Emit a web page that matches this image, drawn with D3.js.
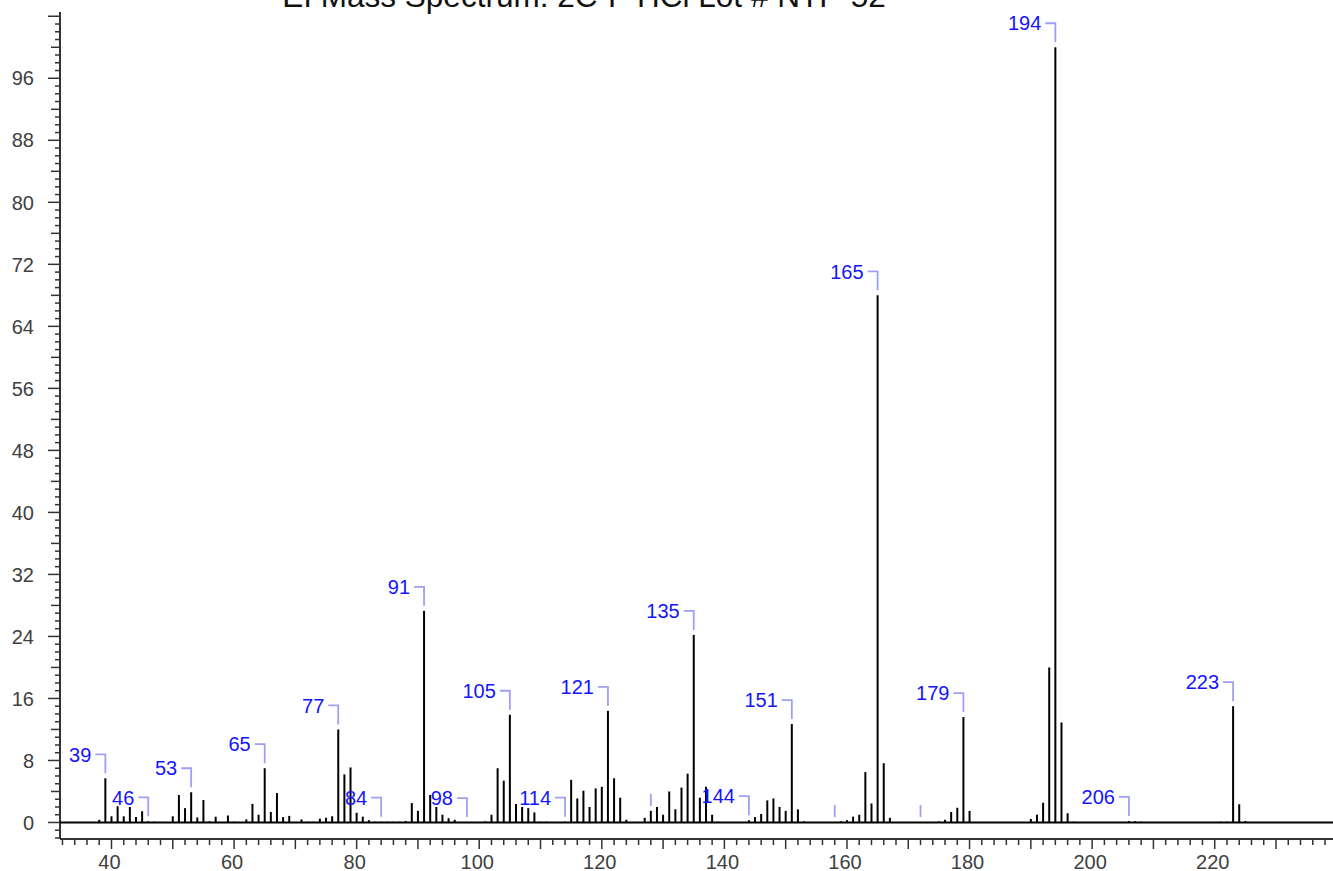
<!DOCTYPE html>
<html lang="en">
<head>
<meta charset="UTF-8" />
<title>EI Mass Spectrum</title>
<script src="https://cdn.jsdelivr.net/npm/d3@7"></script>
<style>
  body { margin: 0; background: #fff; }
  svg { display: block; font-family: "Liberation Sans", Arial, sans-serif; }
</style>
</head>
<body>
<div id="app"></div>
<script>
const titleText = 'EI Mass Spectrum: 2C-P HCl Lot # NTP-52'

// m/z and relative abundance
const mz = [38, 39, 40, 41, 42, 43, 44, 45, 46, 47, 50, 51, 52, 53, 54, 55, 56, 57, 59, 60,
  62, 63, 64, 65, 66, 67, 68, 69, 71, 72, 73, 74, 75, 76, 77, 78, 79, 80, 81, 82,
  83, 84, 85, 86, 87, 88, 89, 90, 91, 92, 93, 94, 95, 96, 98, 101, 102, 103, 104, 105,
  106, 107, 108, 109, 110, 111, 114, 115, 116, 117, 118, 119, 120, 121, 122, 123, 124, 127, 128, 129,
  130, 131, 132, 133, 134, 135, 136, 137, 138, 139, 144, 145, 146, 147, 148, 149, 150, 151, 152, 153,
  158, 159, 160, 161, 162, 163, 164, 165, 166, 167, 172, 175, 176, 177, 178, 179, 180, 190, 191, 192,
  193, 194, 195, 196, 197, 206, 207, 208, 221, 222, 223, 224, 225]
const intensity = [0.35, 5.7, 0.8, 2.1, 0.8, 2.0, 0.7, 1.45, 0.15, 0.1, 0.8, 3.55, 1.85, 3.9, 0.65, 2.9, 0.15, 0.75, 0.9, 0.1,
  0.4, 2.4, 1.0, 7.0, 1.35, 3.8, 0.7, 0.85, 0.4, 0.1, 0.1, 0.5, 0.6, 0.8, 12.0, 6.2, 7.1, 1.25, 0.75, 0.3,
  0.1, 0.1, 0.1, 0.1, 0.1, 0.2, 2.5, 1.5, 27.3, 3.55, 2.0, 1.0, 0.55, 0.35, 0.05, 0.15, 1.0, 7.0, 5.4, 13.9,
  2.4, 2.0, 1.85, 1.3, 0.1, 0.1, 0.1, 5.5, 3.1, 4.1, 2.0, 4.4, 4.6, 14.4, 5.7, 3.2, 0.35, 0.6, 1.5, 2.0,
  1.0, 4.0, 1.7, 4.5, 6.3, 24.2, 3.2, 4.6, 1.0, 0.1, 0.3, 0.7, 1.1, 2.85, 3.1, 2.0, 1.5, 12.7, 1.7, 0.15,
  0.05, 0.15, 0.3, 0.75, 1.0, 6.5, 2.45, 68.0, 7.65, 0.6, 0.05, 0.15, 0.35, 1.35, 1.9, 13.6, 1.5, 0.45, 1.0, 2.55,
  20.0, 100, 12.9, 1.2, 0.1, 0.2, 0.15, 0.1, 0.1, 0.1, 15.0, 2.35, 0.2]

// annotated peaks, and peaks whose label text was suppressed (connector only)
const labelMz = [39, 46, 53, 65, 77, 84, 91, 98, 105, 114, 121, 135, 144, 151, 165, 179, 194, 206, 223]
const hiddenLabelMz = [128, 158, 172]

const xTicks = d3.range(32, 240, 2)
const xTickLabels = d3.range(40, 221, 20)
const yTicks = d3.range(-2, 105, 1)
const yTickLabels = d3.range(0, 97, 8)

const width = 1333
const height = 871
const peaks = mz.map((m, i) => ({ mz: m, value: intensity[i] }))
const valueAt = m => (peaks.find(p => p.mz === m) || { value: 0 }).value

const x = d3.scaleLinear().domain([31.6, 239.3]).range([60, 1333])
const y = d3.scaleLinear().domain([-2.13, 104.55]).range([839, 12])

const svg = d3.select('#app').append('svg')
  .attr('width', width)
  .attr('height', height)

// title (sits partly above the page edge)
svg.append('text')
  .attr('x', 584)
  .attr('y', 7)
  .attr('text-anchor', 'middle')
  .attr('font-size', 31.5)
  .attr('fill', '#111')
  .text(titleText)

// y axis
const yAxis = svg.append('g').attr('transform', `translate(${x.range()[0]},0)`)
yAxis.append('line')
  .attr('y1', y.range()[1]).attr('y2', y.range()[0])
  .attr('stroke', '#333').attr('stroke-width', 2)
yAxis.selectAll('line.tick')
  .data(yTicks)
  .join('line')
  .attr('class', 'tick')
  .attr('x1', d => d % 8 === 0 ? -12 : d % 4 === 0 ? -9 : -5)
  .attr('x2', 0)
  .attr('y1', d => y(d)).attr('y2', d => y(d))
  .attr('stroke', '#333').attr('stroke-width', 1.5)
yAxis.selectAll('text')
  .data(yTickLabels)
  .join('text')
  .attr('x', -26)
  .attr('y', d => y(d))
  .attr('dy', '0.36em')
  .attr('text-anchor', 'end')
  .attr('font-size', 20)
  .attr('fill', '#404040')
  .text(d => d)

// x axis
const xAxis = svg.append('g').attr('transform', `translate(0,${y.range()[0]})`)
xAxis.append('line')
  .attr('x1', x.range()[0]).attr('x2', x.range()[1])
  .attr('stroke', '#333').attr('stroke-width', 2)
xAxis.selectAll('line.tick')
  .data(xTicks)
  .join('line')
  .attr('class', 'tick')
  .attr('x1', d => x(d)).attr('x2', d => x(d))
  .attr('y1', 0)
  .attr('y2', d => d % 10 === 0 ? 10 : 6)
  .attr('stroke', '#333').attr('stroke-width', 1.5)
xAxis.selectAll('text')
  .data(xTickLabels)
  .join('text')
  .attr('x', d => x(d) - 2)
  .attr('y', 30)
  .attr('text-anchor', 'middle')
  .attr('font-size', 20)
  .attr('fill', '#404040')
  .text(d => d)

// baseline
svg.append('line')
  .attr('x1', x.range()[0]).attr('x2', x.range()[1])
  .attr('y1', y(0)).attr('y2', y(0))
  .attr('stroke', '#000').attr('stroke-width', 2)

// sticks
svg.append('g').selectAll('line')
  .data(peaks)
  .join('line')
  .attr('x1', d => x(d.mz)).attr('x2', d => x(d.mz))
  .attr('y1', y(0))
  .attr('y2', d => y(d.value))
  .attr('stroke', '#000').attr('stroke-width', 2)

// labels with bracket connectors
const labelColor = '#1414ff'
const connColor = '#9f9ff5'
const lab = svg.append('g').selectAll('g')
  .data(labelMz.map(m => ({ mz: m, value: valueAt(m) })))
  .join('g')
  .attr('transform', d => `translate(${x(d.mz)},${y(d.value)})`)
lab.append('path')
  .attr('d', 'M-10,-24H0V-5')
  .attr('fill', 'none')
  .attr('stroke', connColor).attr('stroke-width', 1.8)
lab.append('text')
  .attr('x', -14)
  .attr('y', -24)
  .attr('dy', '0.36em')
  .attr('text-anchor', 'end')
  .attr('font-size', 20)
  .attr('fill', labelColor)
  .text(d => d.mz)

svg.append('g').selectAll('line')
  .data(hiddenLabelMz.map(m => ({ mz: m, value: valueAt(m) })))
  .join('line')
  .attr('x1', d => x(d.mz)).attr('x2', d => x(d.mz))
  .attr('y1', d => y(d.value) - 17)
  .attr('y2', d => y(d.value) - 5)
  .attr('stroke', connColor).attr('stroke-width', 1.8)
</script>
</body>
</html>
